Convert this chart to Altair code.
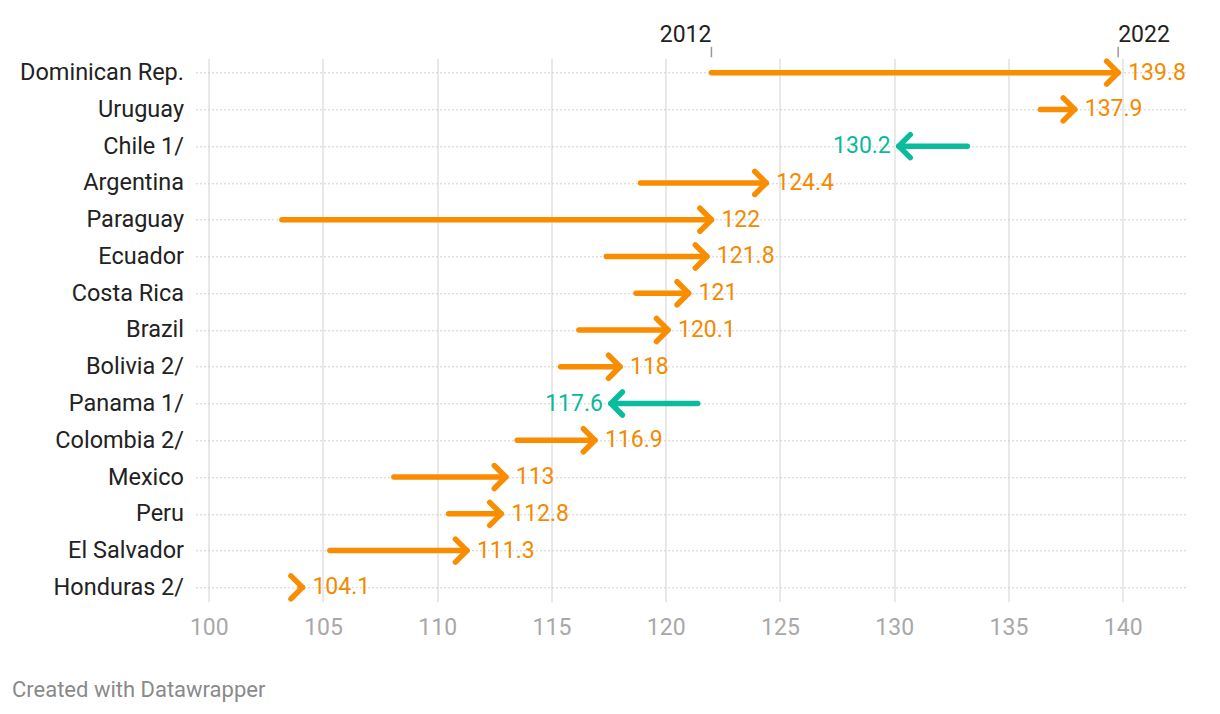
import altair as alt
import pandas as pd

countries = ["Dominican Rep.", "Uruguay", "Chile 1/", "Argentina", "Paraguay", "Ecuador",
             "Costa Rica", "Brazil", "Bolivia 2/", "Panama 1/", "Colombia 2/", "Mexico",
             "Peru", "El Salvador", "Honduras 2/"]
v2012 = [122.0, 136.4, 133.2, 118.9, 103.2, 117.4, 118.7, 116.2, 115.4, 121.4, 113.5, 108.1, 110.5, 105.3, 104.0]
v2022 = [139.8, 137.9, 130.2, 124.4, 122.0, 121.8, 121.0, 120.1, 118.0, 117.6, 116.9, 113.0, 112.8, 111.3, 104.1]
years = ["2012", "2022"]
x_ticks = [100, 105, 110, 115, 120, 125, 130, 135, 140]
footer = "Created with Datawrapper"

ORANGE = "#fa8c00"
TEAL = "#0abc9d"
ORANGE_TXT = "#f38a00"
TEAL_TXT = "#0bb99a"
FONT = "Roboto"

df = pd.DataFrame({"country": countries, "start": v2012, "end": v2022})
df["dir"] = ["up" if e >= s else "down" for s, e in zip(v2012, v2022)]

x_scale = alt.Scale(domain=[99.42, 142.77], nice=False, zero=False)
y_scale = alt.Scale(type="point", padding=0.39, domain=countries)

base = alt.Chart(df)

shafts = base.mark_rule(strokeWidth=5.5, strokeCap="round").encode(
    x=alt.X("start:Q", scale=x_scale, title=None,
            axis=alt.Axis(values=x_ticks, domain=False, ticks=False, grid=True,
                          gridColor="#e3e3e3", gridWidth=1.6, labelFontSize=23,
                          labelColor="#a8a8a8", labelFont=FONT, labelPadding=15)),
    x2="end:Q",
    y=alt.Y("country:N", scale=y_scale, sort=countries, title=None,
            axis=alt.Axis(domain=False, ticks=False, grid=True, gridColor="#d0d0d0",
                          gridWidth=1, gridDash=[2, 2], labelFontSize=23.5,
                          labelColor="#222222", labelFont=FONT, labelPadding=12,
                          labelLimit=400)),
    color=alt.Color("dir:N", scale=alt.Scale(domain=["up", "down"], range=[ORANGE, TEAL]),
                    legend=None),
)

head_right = base.transform_filter(alt.datum.dir == "up").mark_point(
    shape="M-1,-1L0,0L-1,1", filled=False, size=529, strokeWidth=5.5,
    strokeCap="round", strokeJoin="round", opacity=1, color=ORANGE
).encode(x=alt.X("end:Q", scale=x_scale), y=alt.Y("country:N", scale=y_scale, sort=countries))

head_left = base.transform_filter(alt.datum.dir == "down").mark_point(
    shape="M1,-1L0,0L1,1", filled=False, size=529, strokeWidth=5.5,
    strokeCap="round", strokeJoin="round", opacity=1, color=TEAL
).encode(x=alt.X("end:Q", scale=x_scale), y=alt.Y("country:N", scale=y_scale, sort=countries))

lab_up = base.transform_filter(alt.datum.dir == "up").mark_text(
    align="left", baseline="middle", dx=10, fontSize=23, font=FONT, color=ORANGE_TXT
).encode(x=alt.X("end:Q", scale=x_scale), y=alt.Y("country:N", scale=y_scale, sort=countries),
         text=alt.Text("end:Q", format="~g"))

lab_down = base.transform_filter(alt.datum.dir == "down").mark_text(
    align="right", baseline="middle", dx=-8, fontSize=23, font=FONT, color=TEAL_TXT
).encode(x=alt.X("end:Q", scale=x_scale), y=alt.Y("country:N", scale=y_scale, sort=countries),
         text=alt.Text("end:Q", format="~g"))

yr_df = pd.DataFrame({"year": years, "val": [v2012[0], v2022[0]]})
yr_base = alt.Chart(yr_df)
yr_ticks = yr_base.mark_rule(color="#999999", strokeWidth=1.5).encode(
    x=alt.X("val:Q", scale=x_scale), y=alt.value(-11.5), y2=alt.value(-1))
yr_left = yr_base.transform_filter(alt.datum.year == years[0]).mark_text(
    align="right", baseline="alphabetic", fontSize=23, font=FONT, color="#222222"
).encode(x=alt.X("val:Q", scale=x_scale), y=alt.value(-16.5), text="year:N")
yr_right = yr_base.transform_filter(alt.datum.year == years[1]).mark_text(
    align="left", baseline="alphabetic", fontSize=23, font=FONT, color="#222222"
).encode(x=alt.X("val:Q", scale=x_scale), y=alt.value(-16.5), text="year:N")

foot = alt.Chart(pd.DataFrame({"t": [footer]})).mark_text(
    align="left", baseline="middle", fontSize=22, font=FONT, color="#8a8a8a"
).encode(x=alt.value(-183.5), y=alt.value(632), text="t:N")

chart = alt.layer(shafts, head_right, head_left, lab_up, lab_down,
                  yr_ticks, yr_left, yr_right, foot).properties(
    width=990.5, height=543.4,
    padding={"left": 187.5, "top": 50.3, "right": 26, "bottom": 100},
    autosize=alt.AutoSizeParams(type="none"),
).configure(font=FONT).configure_view(stroke=None)

chart.save("out.html", embed_options={"renderer": "svg", "actions": False})
